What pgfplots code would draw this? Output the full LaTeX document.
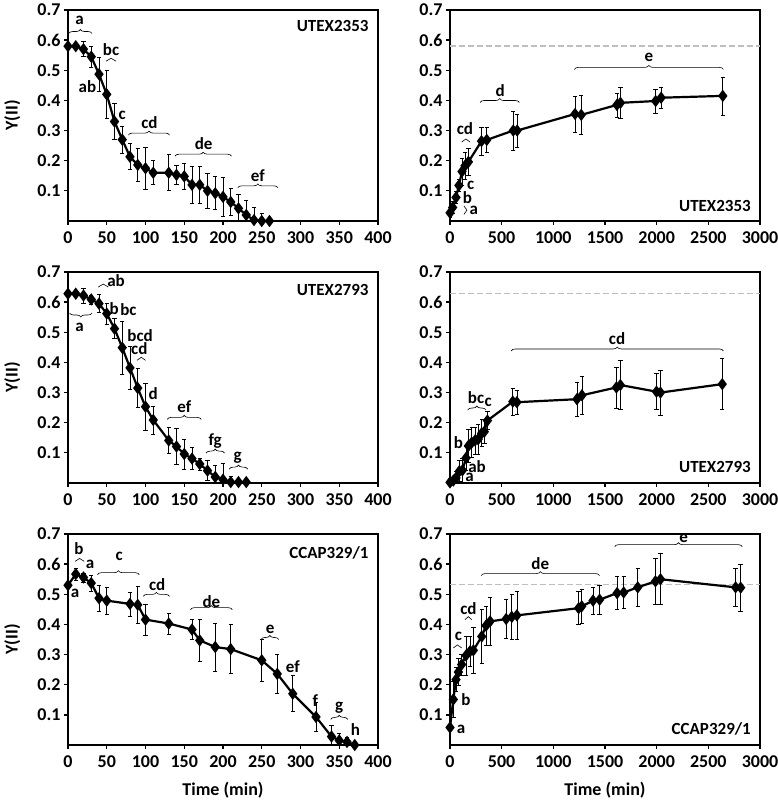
\documentclass[border=0pt]{standalone}
\usepackage{fontspec}
\setmainfont{Carlito}
\usepackage{pgfplots}
\pgfplotsset{compat=1.18}
\usetikzlibrary{decorations.pathreplacing}

\tikzset{
  lbl/.style={font=\bfseries\fontsize{17}{19}\selectfont, inner sep=0pt},
  br/.style={decorate, decoration={brace, amplitude=4pt}, line width=0.6pt},
  sbr/.style={decorate, decoration={brace, amplitude=3pt}, line width=0.6pt},
}
\pgfplotsset{
  panel/.style={
    width=310pt, height=211pt, scale only axis,
    anchor=north west, clip mode=individual,
    ymin=0, ymax=0.7, ytick={0.1,0.2,0.3,0.4,0.5,0.6,0.7},
    axis line style={line width=1.8pt},
    tick style={line width=1.3pt, black},
    tick align=outside, major tick length=4pt,
    xtick pos=left, ytick pos=left,
    scaled x ticks=false,
    tick label style={font=\bfseries\fontsize{18}{20}\selectfont},
    xticklabel style={yshift=-3pt},
    /pgf/number format/assume math mode=true,
    /pgf/number format/1000 sep={},
    yticklabel style={/pgf/number format/.cd, fixed, fixed zerofill, precision=1},
  },
  leftp/.style={panel, xmin=0, xmax=400, xtick={0,50,...,400}},
  rightp/.style={panel, xmin=0, xmax=3000, xtick={0,500,...,3000}},
  dat/.style={black, line width=2.2pt, mark=diamond*, mark size=4.4pt,
    mark options={solid, fill=black},
    error bars/.cd, y dir=both, y explicit,
    error bar style={line width=0.7pt, black},
    error mark options={line width=0.7pt, mark size=2.2pt, rotate=90}},
  ref/.style={gray!50, line width=1.6pt, dash pattern=on 6pt off 3pt, mark=none},
}
\newcommand{\yl}{\node[lbl, rotate=90, font=\bfseries\fontsize{18}{20}\selectfont] at (axis description cs:-0.18,0.5) {Y(II)};}
\newcommand{\xl}{\node[lbl, font=\bfseries\fontsize{18}{20}\selectfont] at (axis description cs:0.5,-0.215) {Time (min)};}

\begin{document}
\begin{tikzpicture}
\useasboundingbox (0pt,0pt) rectangle (777pt,809pt);

% ---- row 1: UTEX2353
\begin{axis}[leftp, at={(68pt,799pt)}]
\addplot+[dat] table[x=t, y=y, y error=e] {
t y e
0 0.580 0.005
10 0.580 0.005
20 0.570 0.025
30 0.545 0.035
40 0.487 0.057
50 0.420 0.080
60 0.330 0.060
70 0.270 0.045
80 0.213 0.043
90 0.186 0.055
100 0.175 0.070
110 0.160 0.040
130 0.160 0.060
140 0.153 0.030
150 0.148 0.042
160 0.120 0.060
170 0.120 0.060
180 0.100 0.058
190 0.092 0.055
200 0.080 0.065
210 0.063 0.045
220 0.042 0.048
230 0.020 0.050
240 0.003 0.043
250 0.000 0.025
260 0.000 0.000
};
\yl
\node[lbl] at (axis cs:15,0.667) {a};
\draw[br] (axis cs:1,0.622) -- (axis cs:31,0.622);
\node[lbl] at (axis cs:55.6,0.569) {bc};
\draw[sbr] (axis cs:49,0.53) -- (axis cs:62,0.53);
\node[lbl] at (axis cs:25,0.447) {ab};
\node[lbl] at (axis cs:70,0.351) {c};
\node[lbl] at (axis cs:105,0.327) {cd};
\draw[br] (axis cs:78,0.285) -- (axis cs:131,0.285);
\node[lbl] at (axis cs:175,0.257) {de};
\draw[br] (axis cs:138,0.215) -- (axis cs:211,0.215);
\node[lbl] at (axis cs:245,0.15) {ef};
\draw[br] (axis cs:219,0.11) -- (axis cs:271,0.11);
\node[lbl, anchor=east] at (axis cs:388,0.647) {UTEX2353};
\end{axis}

\begin{axis}[rightp, at={(450pt,799pt)}]
\addplot[ref] coordinates {(0,0.58) (3000,0.58)};
\addplot+[dat] table[x=t, y=y, y error=e] {
t y e
0 0.027 0.015
26 0.045 0.020
58 0.078 0.020
86 0.118 0.020
116 0.164 0.045
145 0.183 0.045
178 0.196 0.045
305 0.265 0.047
356 0.269 0.040
612 0.300 0.065
650 0.300 0.055
1210 0.355 0.060
1270 0.352 0.066
1615 0.385 0.040
1650 0.392 0.050
1990 0.398 0.040
2043 0.409 0.035
2640 0.415 0.063
};
\node[lbl] at (axis cs:1924,0.543) {e};
\draw[br] (axis cs:1203,0.503) -- (axis cs:2645,0.503);
\node[lbl] at (axis cs:485,0.432) {d};
\draw[br] (axis cs:291,0.393) -- (axis cs:672,0.393);
\node[lbl] at (axis cs:145,0.306) {cd};
\draw[sbr] (axis cs:113,0.262) -- (axis cs:194,0.262);
\node[lbl] at (axis cs:200,0.118) {c};
\node[lbl] at (axis cs:168,0.077) {b};
\draw[sbr] (axis cs:135,0.05) -- (axis cs:135,0.022);
\node[lbl] at (axis cs:230,0.035) {a};
\node[lbl, anchor=east] at (axis cs:2913,0.05) {UTEX2353};
\end{axis}

% ---- row 2: UTEX2793
\begin{axis}[leftp, at={(68pt,537pt)}]
\addplot+[dat] table[x=t, y=y, y error=e] {
t y e
0 0.628 0.005
10 0.628 0.005
20 0.622 0.025
30 0.609 0.015
40 0.595 0.030
50 0.562 0.035
60 0.512 0.033
70 0.449 0.088
80 0.382 0.072
90 0.315 0.064
100 0.253 0.077
110 0.209 0.046
130 0.141 0.044
140 0.121 0.060
150 0.096 0.050
160 0.081 0.037
170 0.063 0.020
180 0.041 0.033
190 0.020 0.040
200 0.011 0.055
210 0.003 0.020
220 0.003 0.010
230 0.003 0.005
};
\yl
\node[lbl] at (axis cs:62,0.67) {ab};
\draw[sbr] (axis cs:39,0.65) -- (axis cs:52,0.65);
\node[lbl] at (axis cs:15,0.515) {a};
\draw[br] (axis cs:31,0.564) -- (axis cs:2,0.564);
\node[lbl] at (axis cs:59.5,0.58) {b};
\node[lbl] at (axis cs:78,0.575) {bc};
\node[lbl] at (axis cs:93,0.49) {bcd};
\node[lbl] at (axis cs:92,0.446) {cd};
\draw[sbr] (axis cs:89,0.407) -- (axis cs:100,0.407);
\node[lbl] at (axis cs:110,0.295) {d};
\node[lbl] at (axis cs:150,0.253) {ef};
\draw[br] (axis cs:128,0.211) -- (axis cs:172,0.211);
\node[lbl] at (axis cs:190,0.138) {fg};
\draw[br] (axis cs:178,0.099) -- (axis cs:202,0.099);
\node[lbl] at (axis cs:219,0.083) {g};
\draw[br] (axis cs:208,0.046) -- (axis cs:232,0.046);
\node[lbl, anchor=east] at (axis cs:388,0.64) {UTEX2793};
\end{axis}

\begin{axis}[rightp, at={(450pt,537pt)}]
\addplot[ref] coordinates {(0,0.628) (3000,0.628)};
\addplot+[dat] table[x=t, y=y, y error=e] {
t y e
0 0.002 0.005
32 0.008 0.010
58 0.017 0.020
90 0.039 0.035
120 0.042 0.040
155 0.083 0.040
178 0.123 0.055
210 0.134 0.050
242 0.141 0.045
272 0.145 0.050
307 0.165 0.045
332 0.170 0.040
362 0.207 0.030
608 0.270 0.044
647 0.268 0.040
1228 0.278 0.056
1277 0.291 0.062
1610 0.317 0.068
1649 0.325 0.082
1998 0.303 0.060
2037 0.300 0.075
2635 0.328 0.085
};
\node[lbl] at (axis cs:1617,0.479) {cd};
\draw[br] (axis cs:592,0.438) -- (axis cs:2645,0.438);
\node[lbl] at (axis cs:252,0.284) {bc};
\node[lbl] at (axis cs:370,0.268) {c};
\draw[br] (axis cs:171,0.242) -- (axis cs:349,0.242);
\node[lbl] at (axis cs:81,0.134) {b};
\node[lbl] at (axis cs:262,0.055) {ab};
\node[lbl] at (axis cs:190,0.018) {a};
\node[lbl, anchor=east] at (axis cs:2913,0.052) {UTEX2793};
\end{axis}

% ---- row 3: CCAP329/1
\begin{axis}[leftp, at={(68pt,275pt)}]
\addplot+[dat] table[x=t, y=y, y error=e] {
t y e
0 0.530 0.005
10 0.567 0.020
20 0.556 0.015
30 0.537 0.027
40 0.487 0.043
50 0.479 0.044
80 0.468 0.040
90 0.465 0.060
100 0.416 0.052
130 0.403 0.035
160 0.383 0.033
170 0.347 0.070
190 0.325 0.080
210 0.318 0.081
250 0.281 0.070
270 0.236 0.065
290 0.170 0.060
320 0.093 0.047
340 0.028 0.037
350 0.015 0.025
360 0.010 0.015
370 0.000 0.000
};
\yl
\xl
\node[lbl] at (axis cs:14,0.65) {b};
\draw[sbr] (axis cs:9,0.609) -- (axis cs:21,0.609);
\node[lbl] at (axis cs:28.5,0.60) {a};
\node[lbl] at (axis cs:9,0.504) {a};
\node[lbl] at (axis cs:66,0.625) {c};
\draw[br] (axis cs:38,0.565) -- (axis cs:92,0.565);
\node[lbl] at (axis cs:115,0.532) {cd};
\draw[br] (axis cs:97,0.493) -- (axis cs:131,0.493);
\node[lbl] at (axis cs:185,0.476) {de};
\draw[br] (axis cs:158,0.449) -- (axis cs:212,0.449);
\node[lbl] at (axis cs:261,0.383) {e};
\draw[br] (axis cs:249,0.35) -- (axis cs:272,0.35);
\node[lbl] at (axis cs:290,0.261) {ef};
\node[lbl] at (axis cs:319,0.148) {f};
\node[lbl] at (axis cs:350,0.124) {g};
\draw[br] (axis cs:339,0.085) -- (axis cs:361,0.085);
\node[lbl] at (axis cs:371,0.052) {h};
\node[lbl, anchor=east] at (axis cs:388,0.636) {CCAP329/1};
\end{axis}

\begin{axis}[rightp, at={(450pt,275pt)}]
\addplot[ref] coordinates {(0,0.532) (3000,0.532)};
\addplot+[dat] table[x=t, y=y, y error=e] {
t y e
0 0.058 0.010
32 0.151 0.060
58 0.217 0.040
81 0.242 0.045
113 0.267 0.035
155 0.297 0.065
194 0.311 0.050
226 0.314 0.075
307 0.360 0.090
349 0.396 0.065
388 0.410 0.080
543 0.418 0.065
598 0.425 0.075
647 0.430 0.080
1245 0.454 0.055
1275 0.460 0.055
1384 0.479 0.045
1448 0.482 0.048
1617 0.504 0.055
1681 0.506 0.053
1817 0.523 0.062
1988 0.543 0.077
2037 0.550 0.085
2764 0.523 0.063
2813 0.522 0.078
};
\xl
\node[lbl] at (axis cs:2260,0.687) {e};
\draw[br] (axis cs:1594,0.658) -- (axis cs:2829,0.658);
\node[lbl] at (axis cs:873,0.601) {de};
\draw[br] (axis cs:301,0.562) -- (axis cs:1448,0.562);
\node[lbl] at (axis cs:178,0.454) {cd};
\draw[sbr] (axis cs:145,0.416) -- (axis cs:210,0.416);
\node[lbl] at (axis cs:81,0.36) {c};
\draw[sbr] (axis cs:32,0.322) -- (axis cs:113,0.322);
\node[lbl] at (axis cs:155,0.149) {b};
\node[lbl] at (axis cs:107,0.052) {a};
\node[lbl, anchor=east] at (axis cs:2913,0.052) {CCAP329/1};
\end{axis}
\end{tikzpicture}
\end{document}
